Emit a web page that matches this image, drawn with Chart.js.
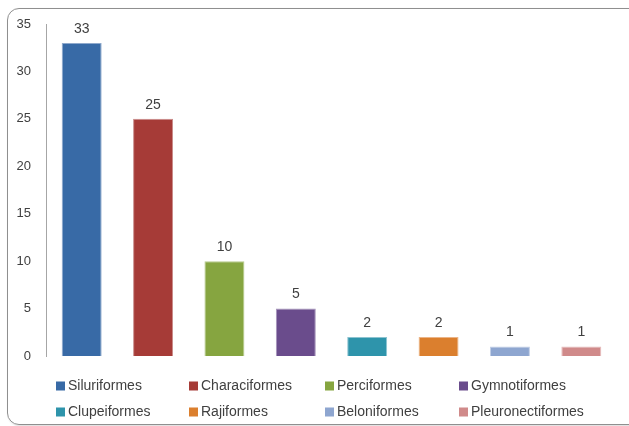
<!DOCTYPE html>
<html>
<head>
<meta charset="utf-8">
<script src="https://cdn.jsdelivr.net/npm/chart.js@4/dist/chart.umd.min.js"></script>
<style>
html,body{margin:0;padding:0;background:#fff;}
#wrap{position:relative;width:629px;height:426px;overflow:hidden;}
#frame{position:absolute;left:7px;top:8px;width:640px;height:417px;border:1px solid #8f8f8f;border-radius:12px;box-sizing:border-box;box-shadow:1px 1px 2px rgba(0,0,0,0.15);}
#c{position:absolute;left:0;top:0;}
</style>
</head>
<body>
<div id="wrap">
<div id="frame"></div>
<canvas id="c" width="629" height="426"></canvas>
</div>
<script>
const categories = ['Siluriformes','Characiformes','Perciformes','Gymnotiformes','Clupeiformes','Rajiformes','Beloniformes','Pleuronectiformes'];
const counts = [33, 25, 10, 5, 2, 2, 1, 1];
const barColors = ['#386aa6','#a63b37','#86a540','#6a4c8c','#2e94ab','#db7f2e','#8ea6d0','#d08a8a'];
const barEdges = ['#8fa9cc','#c98c8a','#b6ca8c','#a593ba','#8cc3d0','#ebb487','#c0cde6','#e6bcbc'];
const yMin = 0, yMax = 35, yStep = 5;

const FONT = "'Liberation Sans', Arial, sans-serif";
const TEXT = '#404040';

const valueLabels = {
  id: 'valueLabels',
  afterDatasetsDraw(chart) {
    const ctx = chart.ctx;
    const meta = chart.getDatasetMeta(0);
    ctx.save();
    ctx.font = '14px ' + FONT;
    ctx.fillStyle = TEXT;
    ctx.textAlign = 'center';
    ctx.textBaseline = 'middle';
    meta.data.forEach((bar, i) => {
      ctx.fillText(String(counts[i]), bar.x, bar.y - 14);
    });
    ctx.restore();
  }
};

const gridLegend = {
  id: 'gridLegend',
  afterDraw(chart) {
    const ctx = chart.ctx;
    const colX = [56, 189, 325, 459];
    const rowY = [386, 412];
    ctx.save();
    ctx.font = '14px ' + FONT;
    ctx.textBaseline = 'middle';
    ctx.textAlign = 'left';
    categories.forEach((name, i) => {
      const x = colX[i % 4];
      const y = rowY[Math.floor(i / 4)];
      ctx.fillStyle = barColors[i];
      ctx.fillRect(x, y - 4.5, 9, 9);
      ctx.fillStyle = TEXT;
      ctx.fillText(name, x + 12, y);
    });
    ctx.restore();
  }
};

new Chart(document.getElementById('c'), {
  type: 'bar',
  data: {
    labels: categories,
    datasets: [{
      label: 'Count',
      data: counts,
      backgroundColor: barColors,
      borderColor: barEdges,
      borderWidth: 1,
      barPercentage: 0.56,
      categoryPercentage: 1.0
    }]
  },
  options: {
    responsive: false,
    animation: false,
    layout: { padding: { left: 0, top: 24, right: 12, bottom: 70 } },
    plugins: { legend: { display: false }, tooltip: { enabled: false } },
    scales: {
      x: { display: false },
      y: {
        min: yMin, max: yMax,
        afterFit(s) { s.width = 46; },
        ticks: { stepSize: yStep, color: TEXT, padding: 15, font: { family: FONT, size: 13 } },
        grid: { display: false, drawTicks: false },
        border: { display: true, color: '#a6a6a6', width: 1 }
      }
    }
  },
  plugins: [valueLabels, gridLegend]
});
</script>
</body>
</html>
